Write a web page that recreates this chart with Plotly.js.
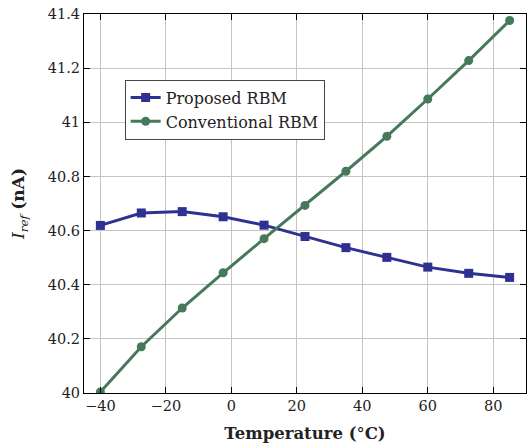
<!DOCTYPE html>
<html>
<head>
<meta charset="utf-8">
<script src="https://cdn.plot.ly/plotly-3.0.1.min.js"></script>
<style>html,body{margin:0;padding:0;background:#fff;}#chart{width:528px;height:447px;}</style>
</head>
<body>
<div id="chart"></div>
<script>
const temperature = [-40, -27.5, -15, -2.5, 10, 22.5, 35, 47.5, 60, 72.5, 85];
const proposedRBM = [40.619, 40.665, 40.670, 40.651, 40.620, 40.578, 40.537, 40.501, 40.465, 40.442, 40.427];
const conventionalRBM = [40.004, 40.171, 40.314, 40.444, 40.570, 40.693, 40.819, 40.948, 41.086, 41.228, 41.376];
const seriesNames = ["Proposed RBM", "Conventional RBM"];
const xTicks = [-40, -20, 0, 20, 40, 60, 80];
const xTickText = ["\u221240", "\u221220", "0", "20", "40", "60", "80"];
const yTicks = [40, 40.2, 40.4, 40.6, 40.8, 41, 41.2, 41.4];
const yTickText = ["40", "40.2", "40.4", "40.6", "40.8", "41", "41.2", "41.4"];

const blue = "#2e3192";
const green = "#46785a";
const font = "DejaVu Serif";

const traces = [
  {x: temperature, y: proposedRBM, name: seriesNames[0], type: "scatter", mode: "lines+markers",
   line: {color: blue, width: 3}, marker: {symbol: "square", size: 9, color: blue}},
  {x: temperature, y: conventionalRBM, name: seriesNames[1], type: "scatter", mode: "lines+markers",
   line: {color: green, width: 3}, marker: {symbol: "circle", size: 9, color: green}}
];

const axisCommon = {
  showline: true, linecolor: "#000", linewidth: 1, mirror: "ticks",
  ticks: "inside", ticklen: 6, tickcolor: "#000", tickwidth: 1,
  showgrid: true, gridcolor: "#c4c4c4", gridwidth: 1, zeroline: false,
  tickfont: {family: font, size: 14.5, color: "#222"}
};

const layout = {
  width: 528, height: 447,
  margin: {l: 84, r: 2, t: 14, b: 54},
  paper_bgcolor: "#fff", plot_bgcolor: "#fff",
  showlegend: true,
  legend: {x: 0.092, y: 0.827, xanchor: "left", yanchor: "top",
    bgcolor: "#fff", bordercolor: "#444", borderwidth: 1,
    font: {family: font, size: 16, color: "#222"}, tracegroupgap: 0},
  xaxis: Object.assign({}, axisCommon, {
    range: [-45, 90], tickvals: xTicks, ticktext: xTickText,
    title: {text: "<b>Temperature (</b>\u00b0<b>C)</b>", font: {family: font, size: 16.5, color: "#222"}, standoff: 14}
  }),
  yaxis: Object.assign({}, axisCommon, {
    range: [40, 41.4], tickvals: yTicks, ticktext: yTickText,
    title: {text: "<i>I</i><sub><i>ref</i></sub> <b>(nA)</b>", font: {family: font, size: 17, color: "#222"}, standoff: 18}
  })
};

Plotly.newPlot("chart", traces, layout, {displayModeBar: false, staticPlot: true});
</script>
</body>
</html>
